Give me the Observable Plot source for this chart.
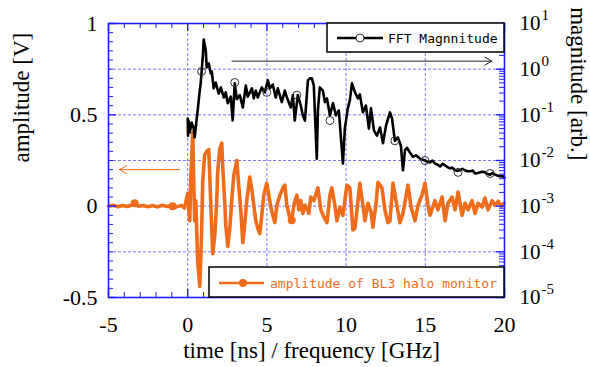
<!DOCTYPE html>
<html><head><meta charset="utf-8">
<script src="https://cdn.jsdelivr.net/npm/d3@7"></script>
<script src="https://cdn.jsdelivr.net/npm/@observablehq/plot@0.6"></script>
<style>body{margin:0;background:#fff}</style>
</head><body><div id="chart"></div>
<script>
// FFT magnitude (right, log axis) vs frequency [GHz]
const fftFreq = [0.00,0.02,0.06,0.13,0.25,0.38,0.44,0.57,0.63,0.76,0.82,0.95,1.01,1.14,1.20,1.33,1.45,1.52,1.64,1.77,1.96,2.09,2.28,2.40,2.53,2.72,2.84,2.97,3.10,3.29,3.48,3.67,3.79,4.05,4.17,4.30,4.42,4.68,4.87,5.06,5.18,5.37,5.56,5.69,5.94,6.13,6.26,6.51,6.64,6.76,6.95,7.14,7.27,7.40,7.59,7.71,7.84,7.96,8.15,8.22,8.34,8.53,8.66,8.79,8.98,9.17,9.36,9.54,9.80,9.92,10.11,10.24,10.37,10.56,10.75,10.87,11.06,11.25,11.44,11.57,11.76,11.95,12.14,12.33,12.52,12.77,12.90,13.08,13.27,13.46,13.59,13.72,13.84,14.03,14.22,14.41,14.66,14.98,15.10,15.30,15.45,15.61,15.80,15.93,16.10,16.25,16.40,16.56,16.70,16.88,17.00,17.19,17.35,17.51,17.65,17.83,18.00,18.14,18.30,18.46,18.60,18.77,18.90,19.09,19.25,19.41,19.55,19.72,19.85,20.00];
const fftMag = [0.083,0.035,0.075,0.041,0.068,0.050,0.032,0.083,0.125,0.34,0.49,1.80,4.47,2.57,1.09,1.33,0.81,0.89,0.38,0.51,0.29,0.40,0.24,0.31,0.18,0.25,0.075,0.49,0.22,0.27,0.145,0.44,0.25,0.38,0.23,0.34,0.24,0.40,0.31,0.57,0.38,0.46,0.24,0.38,0.19,0.34,0.24,0.145,0.27,0.075,0.27,0.16,0.097,0.075,0.57,0.63,0.63,0.44,0.011,0.125,0.40,0.34,0.19,0.23,0.097,0.18,0.097,0.125,0.0086,0.050,0.14,0.21,0.49,0.31,0.23,0.28,0.113,0.16,0.050,0.14,0.045,0.035,0.053,0.024,0.058,0.113,0.083,0.027,0.032,0.021,0.0061,0.017,0.019,0.015,0.012,0.013,0.011,0.010,0.0095,0.0091,0.0100,0.0086,0.0080,0.0074,0.0085,0.0078,0.0072,0.0067,0.0070,0.0061,0.0060,0.0061,0.0066,0.0061,0.0058,0.0058,0.0060,0.0052,0.0053,0.0055,0.0057,0.0055,0.0051,0.0049,0.0053,0.0049,0.0047,0.0045,0.0046,0.0042];
const fftMarkFreq = [0.88,2.97,4.99,6.89,8.98,13.08,14.98,17.07,19.09];
const fftMarkMag = [0.89,0.51,0.31,0.27,0.075,0.027,0.010,0.0055,0.0052];

// amplitude of BL3 halo monitor [V] vs time [ns]
const timeNs = [-5.0,-4.7,-4.4,-4.1,-3.8,-3.4,-3.1,-2.8,-2.5,-2.2,-1.9,-1.6,-1.3,-1.0,-0.7,-0.4,-0.2,0.0,0.13,0.19,0.32,0.38,0.44,0.51,0.63,0.76,0.82,0.88,0.95,1.07,1.20,1.33,1.39,1.45,1.52,1.58,1.71,1.83,1.90,2.02,2.15,2.21,2.34,2.40,2.53,2.65,2.78,2.91,3.10,3.22,3.35,3.48,3.60,3.73,3.92,4.05,4.17,4.30,4.42,4.55,4.68,4.80,4.99,5.18,5.31,5.50,5.63,5.82,6.01,6.13,6.26,6.45,6.57,6.70,6.89,7.02,7.14,7.27,7.40,7.52,7.65,7.77,7.96,8.22,8.41,8.60,8.79,8.98,9.10,9.29,9.42,9.61,9.80,10.05,10.24,10.43,10.56,10.75,10.87,11.06,11.19,11.38,11.57,11.69,11.88,12.01,12.26,12.45,12.64,12.77,12.96,13.15,13.40,13.59,13.91,14.10,14.35,14.54,14.79,14.98,15.17,15.30,15.61,15.80,16.06,16.25,16.43,16.69,16.88,17.07,17.32,17.51,17.70,17.95,18.14,18.33,18.58,18.77,18.96,19.22,19.41,19.60,19.79,19.97];
const amplitudeV = [0.000,0.005,-0.003,0.004,-0.002,0.010,0.000,0.004,-0.003,0.003,-0.004,0.005,-0.002,0.003,-0.004,0.004,-0.010,0.07,-0.08,0.14,0.40,0.14,-0.08,0.03,-0.30,-0.44,-0.30,-0.13,0.14,0.28,0.30,0.31,0.17,0.03,-0.13,-0.26,-0.16,0.02,0.20,0.31,0.345,0.22,0.02,-0.10,-0.22,-0.13,0.03,0.17,0.25,0.115,-0.02,-0.20,-0.10,0.03,0.16,0.09,0.005,-0.08,-0.12,-0.15,-0.05,0.06,0.126,0.03,-0.03,-0.09,0.005,0.06,0.10,0.115,0.005,-0.066,-0.077,0.005,0.06,-0.02,0.03,-0.04,0.005,-0.01,-0.04,0.05,0.03,0.10,-0.02,-0.06,-0.09,0.06,0.10,0.005,-0.08,-0.005,-0.05,0.115,0.10,-0.13,-0.12,0.03,0.126,0.005,-0.08,0.016,-0.03,-0.115,0.005,0.13,0.10,-0.02,-0.09,-0.08,0.126,0.03,-0.09,-0.04,0.115,-0.005,-0.08,0.005,0.06,0.126,0.005,-0.05,0.03,-0.02,0.05,-0.08,0.016,0.05,-0.02,0.077,-0.05,0.016,-0.02,0.03,-0.04,0.016,-0.005,0.045,-0.02,0.03,0.005,0.027,0.000,0.016];
const ampMarkTime = [-3.35,-0.95,6.57];
const ampMarkV = [0.016,0.000,-0.077];

// axes
const xTicks = [-5,0,5,10,15,20];
const xGridLines = [0,5,10,15];
const yTicks = [-0.5,0,0.5,1];
const yGridLines = [-0.25,0,0.25,0.5,0.75];
const magExponents = [1,0,-1,-2,-3,-4,-5];
const xLabel = "time [ns] / frequency [GHz]";
const yLabelLeft = "amplitude [V]";
const yLabelRight = "magnitude [arb.]";
const legendFFT = "FFT Magnnitude";
const legendAmp = "amplitude of BL3 halo monitor";
// annotation arrows (data coordinates: x in ns/GHz, y in V)
const arrowData = [
  {x1: 2.8, x2: 19.2, y: 0.794, color: "#222"},
  {x1: -0.5, x2: -4.3, y: 0.20, color: "#ef6c1a"}
];

const ORANGE = "#ef6c1a";
const BLUE = "#1f1fff";
const SERIF = "Liberation Serif, Times New Roman, DejaVu Serif, serif";
const magToY = m => 0.75 + 0.25 * Math.log10(m);
const expToY = e => 0.75 + 0.25 * e;

const fft = fftFreq.map((f, i) => ({f, y: magToY(fftMag[i])}));
const fftMarks = fftMarkFreq.map((f, i) => ({f, y: magToY(fftMarkMag[i])}));
const amp = timeNs.map((t, i) => ({t, v: amplitudeV[i]}));
const ampMarks = ampMarkTime.map((t, i) => ({t, v: ampMarkV[i]}));

const W = 590, H = 367, ML = 108, MR = 86, MT = 23, MB = 70;
const FW = W - ML - MR, FH = H - MT - MB;

const xMinor = d3.range(-5, 20.001, 1).filter(d => !xTicks.includes(d));
const yMinor = d3.range(-0.5, 1.0001, 0.05).map(d => Math.round(d * 100) / 100).filter(d => Math.abs(d * 2 - Math.round(d * 2)) > 1e-6);
const logMinor = [];
for (let e = -5; e < 1; e++) for (let k = 2; k <= 9; k++) logMinor.push(expToY(e + Math.log10(k)));

const chart = Plot.plot({
  width: W, height: H,
  marginLeft: ML, marginRight: MR, marginTop: MT, marginBottom: MB,
  x: {domain: [-5, 20]},
  y: {domain: [-0.5, 1]},
  style: {fontFamily: SERIF, fontSize: "22px", background: "white", color: "black"},
  marks: [
    Plot.gridX(xGridLines, {stroke: BLUE, strokeOpacity: 0.75, strokeDasharray: "3,2", strokeWidth: 0.8}),
    Plot.gridY(yGridLines, {stroke: BLUE, strokeOpacity: 0.75, strokeDasharray: "3,2", strokeWidth: 0.8}),
    Plot.line(amp, {x: "t", y: "v", stroke: ORANGE, strokeWidth: 3.6, strokeLinejoin: "round"}),
    Plot.dot(ampMarks, {x: "t", y: "v", r: 4, fill: ORANGE}),
    Plot.line(fft, {x: "f", y: "y", stroke: "black", strokeWidth: 2.6, strokeLinejoin: "round"}),
    Plot.dot(fftMarks, {x: "f", y: "y", r: 4, stroke: "#333", strokeWidth: 1, fill: "none"}),
    Plot.arrow(arrowData, {x1: "x1", x2: "x2", y1: "y", y2: "y", stroke: "color", strokeWidth: 1, headLength: 12}),
    Plot.frame({stroke: BLUE, strokeWidth: 1.6}),
    // ticks (inward)
    Plot.tickY(yMinor, {y: d => d, insetRight: FW - 5, stroke: BLUE}),
    Plot.tickY(yTicks, {y: d => d, insetRight: FW - 8, stroke: BLUE, strokeWidth: 1.4}),
    Plot.tickY(logMinor, {y: d => d, insetLeft: FW - 5, stroke: BLUE}),
    Plot.tickY(magExponents, {y: expToY, insetLeft: FW - 8, stroke: BLUE, strokeWidth: 1.4}),
    Plot.tickX(xMinor, {x: d => d, insetBottom: FH - 5, stroke: BLUE}),
    Plot.tickX(xTicks, {x: d => d, insetBottom: FH - 8, stroke: BLUE, strokeWidth: 1.4}),
    Plot.tickX(xMinor, {x: d => d, insetTop: FH - 5, stroke: BLUE}),
    Plot.tickX(xTicks, {x: d => d, insetTop: FH - 8, stroke: BLUE, strokeWidth: 1.4}),
    // tick labels
    Plot.axisY(yTicks, {anchor: "left", tickSize: 0, tickPadding: 11, tickFormat: d => String(d), label: null, fontSize: 22, fontFamily: SERIF}),
    Plot.axisX(xTicks, {anchor: "bottom", tickSize: 0, tickPadding: 19, tickFormat: d => String(d), label: null, fontSize: 22, fontFamily: SERIF}),
    Plot.text(magExponents, {frameAnchor: "right", y: expToY, text: () => "10", dx: 15, textAnchor: "start", fontSize: 21, fontFamily: SERIF}),
    Plot.text(magExponents, {frameAnchor: "right", y: expToY, text: e => String(e), dx: 37, dy: -8, textAnchor: "start", fontSize: 15, fontFamily: SERIF}),
    // axis titles
    Plot.text([xLabel], {frameAnchor: "bottom", dy: 60, dx: 5, fontSize: 23, fontFamily: SERIF}),
    Plot.text([yLabelLeft], {frameAnchor: "left", dx: -87, dy: 2, rotate: -90, fontSize: 23, fontFamily: SERIF}),
    Plot.text([yLabelRight], {frameAnchor: "right", dx: 74, rotate: 90, fontSize: 23, fontFamily: SERIF})
  ]
});

// legends
const svg = d3.select(chart);
const mono = "DejaVu Sans Mono, Liberation Mono, monospace";
const g1 = svg.append("g").attr("text-anchor", "start");
g1.append("rect").attr("x", 327).attr("y", MT).attr("width", W - MR - 327).attr("height", 29)
  .attr("fill", "white").attr("stroke", "black").attr("stroke-width", 1.5);
g1.append("line").attr("x1", 337).attr("x2", 383).attr("y1", 38).attr("y2", 38).attr("stroke", "black").attr("stroke-width", 2.5);
g1.append("circle").attr("cx", 360).attr("cy", 38).attr("r", 4).attr("fill", "white").attr("stroke", "#333");
g1.append("text").attr("x", 388).attr("y", 38).attr("dy", "0.35em").attr("text-anchor", "start").attr("font-family", mono).attr("font-size", 13).attr("fill", "black").text(legendFFT);
const g2 = svg.append("g").attr("text-anchor", "start");
g2.append("rect").attr("x", 209).attr("y", H - MB - 30).attr("width", W - MR - 209).attr("height", 30)
  .attr("fill", "white").attr("stroke", "black").attr("stroke-width", 1.5);
g2.append("line").attr("x1", 219).attr("x2", 264).attr("y1", 283).attr("y2", 283).attr("stroke", ORANGE).attr("stroke-width", 2.5);
g2.append("circle").attr("cx", 243).attr("cy", 283).attr("r", 4).attr("fill", ORANGE);
g2.append("text").attr("x", 270).attr("y", 283).attr("dy", "0.35em").attr("text-anchor", "start").attr("font-family", mono).attr("font-size", 13).attr("fill", ORANGE).text(legendAmp);

document.getElementById("chart").appendChild(chart);
</script>
</body></html>
